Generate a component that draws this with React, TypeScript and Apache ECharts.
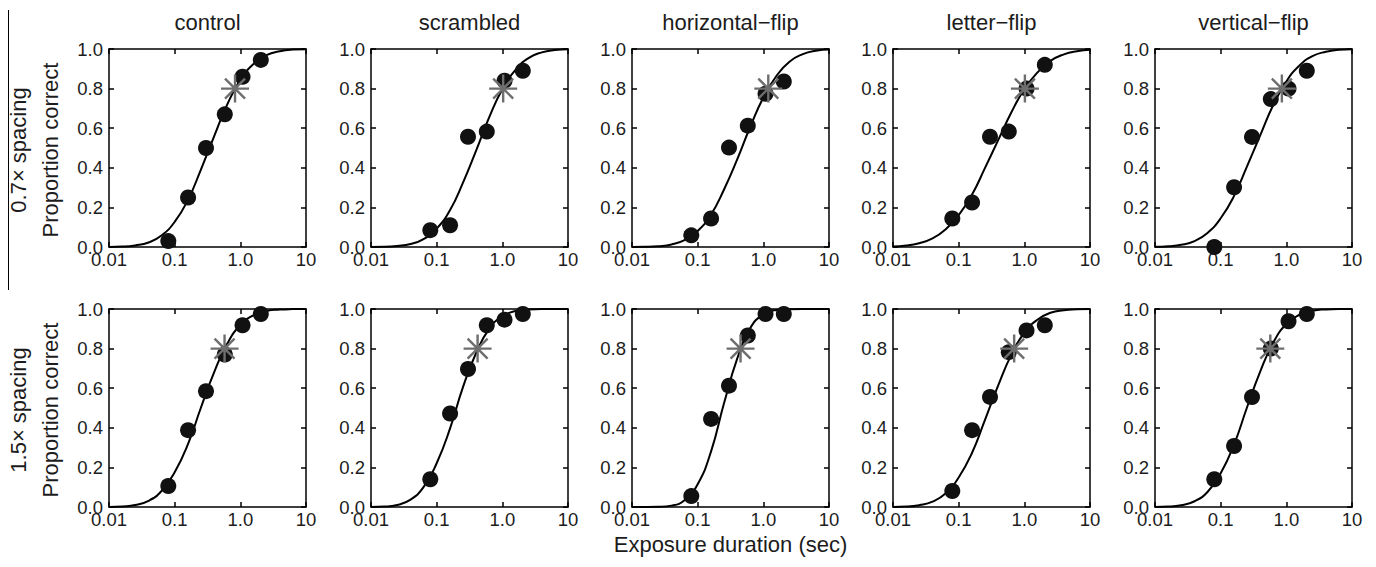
import React, { useEffect, useRef } from "react";
import * as echarts from "echarts";

// ---------- data ----------
const CONDITIONS = ["control", "scrambled", "horizontal\u2212flip", "letter\u2212flip", "vertical\u2212flip"];
const ROW_LABELS = ["0.7\u00d7 spacing", "1.5\u00d7 spacing"];
const Y_NAME = "Proportion correct";
const X_NAME = "Exposure duration (sec)";
const X_TICK_LABELS = ["0.01", "0.1", "1.0", "10"];

// exposure durations (sec) of the measured points
const DURATIONS = [0.08, 0.16, 0.3, 0.58, 1.08, 2.05];

// proportion correct, 0.7x spacing row
const P07_CONTROL = [0.03, 0.25, 0.5, 0.67, 0.86, 0.945];
const P07_SCRAMBLED = [0.085, 0.11, 0.557, 0.583, 0.84, 0.89];
const P07_HFLIP = [0.059, 0.144, 0.502, 0.613, 0.774, 0.836];
const P07_LETTER = [0.144, 0.225, 0.557, 0.583, 0.8, 0.92];
const P07_VFLIP = [0.0, 0.302, 0.556, 0.747, 0.8, 0.89];
// proportion correct, 1.5x spacing row
const P15_CONTROL = [0.106, 0.388, 0.585, 0.77, 0.918, 0.975];
const P15_SCRAMBLED = [0.14, 0.472, 0.697, 0.918, 0.946, 0.975];
const P15_HFLIP = [0.055, 0.445, 0.613, 0.866, 0.975, 0.975];
const P15_LETTER = [0.081, 0.388, 0.556, 0.782, 0.892, 0.918];
const P15_VFLIP = [0.14, 0.308, 0.555, 0.8, 0.938, 0.975];

// 80% thresholds (asterisks), exposure duration in sec
const THRESH_07 = [0.83, 1.03, 1.19, 1.02, 0.855];
const THRESH_15 = [0.575, 0.42, 0.45, 0.7, 0.57];
const THRESH_LEVEL = 0.8;

// fitted psychometric curves, read at these durations
const CURVE_X = [0.01, 0.016, 0.025, 0.04, 0.063, 0.1, 0.16, 0.25, 0.4, 0.63, 1, 1.6, 2.5, 4, 6.3, 10];
const C07_CONTROL = [0.0005, 0.002, 0.008, 0.023, 0.058, 0.127, 0.239, 0.39, 0.56, 0.719, 0.844, 0.925, 0.969, 0.989, 0.997, 0.999];
const C07_SCRAMBLED = [0.0003, 0.001, 0.005, 0.015, 0.04, 0.093, 0.187, 0.323, 0.488, 0.655, 0.797, 0.896, 0.954, 0.983, 0.995, 0.999];
const C07_HFLIP = [0.0003, 0.001, 0.004, 0.013, 0.035, 0.081, 0.164, 0.288, 0.442, 0.606, 0.755, 0.866, 0.936, 0.974, 0.991, 0.997];
const C07_LETTER = [0.0025, 0.007, 0.019, 0.043, 0.088, 0.161, 0.265, 0.397, 0.54, 0.678, 0.797, 0.883, 0.94, 0.973, 0.989, 0.996];
const C07_VFLIP = [0.001, 0.004, 0.011, 0.03, 0.071, 0.145, 0.258, 0.405, 0.564, 0.716, 0.836, 0.918, 0.964, 0.986, 0.996, 0.999];
const C15_CONTROL = [0.0006, 0.003, 0.01, 0.031, 0.081, 0.176, 0.319, 0.5, 0.681, 0.824, 0.919, 0.969, 0.99, 0.997, 0.9994, 1.0];
const C15_SCRAMBLED = [0.0004, 0.002, 0.01, 0.037, 0.1, 0.221, 0.397, 0.603, 0.779, 0.9, 0.963, 0.99, 0.998, 1.0, 1.0, 1.0];
const C15_HFLIP = [0.0, 0.0001, 0.001, 0.007, 0.034, 0.115, 0.281, 0.52, 0.749, 0.903, 0.973, 0.995, 0.999, 1.0, 1.0, 1.0];
const C15_LETTER = [0.0005, 0.002, 0.009, 0.027, 0.068, 0.149, 0.274, 0.438, 0.614, 0.767, 0.881, 0.947, 0.981, 0.994, 0.9985, 1.0];
const C15_VFLIP = [0.0004, 0.002, 0.009, 0.029, 0.076, 0.171, 0.316, 0.5, 0.684, 0.829, 0.924, 0.971, 0.991, 0.998, 1.0, 1.0];

const POINTS = [
  [P07_CONTROL, P07_SCRAMBLED, P07_HFLIP, P07_LETTER, P07_VFLIP],
  [P15_CONTROL, P15_SCRAMBLED, P15_HFLIP, P15_LETTER, P15_VFLIP],
];
const CURVES = [
  [C07_CONTROL, C07_SCRAMBLED, C07_HFLIP, C07_LETTER, C07_VFLIP],
  [C15_CONTROL, C15_SCRAMBLED, C15_HFLIP, C15_LETTER, C15_VFLIP],
];
const THRESHOLDS = [THRESH_07, THRESH_15];

// ---------- layout ----------
const W = 1376;
const H = 567;
const LEFTS = [109, 371, 632, 893, 1155];
const TOPS = [49, 309];
const PW = 197;
const PH = 198;
const FONT = "'Liberation Sans', Arial, Helvetica, sans-serif";
const TEXT_COLOR = "#1c1c1c";
const TICK_FS = 18.5;
const LABEL_FS = 22;

const ASTERISK = "path://M14 0L14 28M0 14L28 14M4 4L24 24M4 24L24 4";

export default function App() {
  const ref = useRef<HTMLDivElement>(null);

  useEffect(() => {
    if (!ref.current) return;
    const chart = echarts.init(ref.current, undefined, { renderer: "svg" });

    const grid: any[] = [];
    const xAxis: any[] = [];
    const yAxis: any[] = [];
    const series: any[] = [];
    const graphic: any[] = [];

    const lineStyle = { color: "#000", width: 1.5 };

    for (let r = 0; r < 2; r++) {
      for (let c = 0; c < 5; c++) {
        const g = r * 5 + c;
        grid.push({ left: LEFTS[c], top: TOPS[r], width: PW, height: PH, show: false });
        const xBase = {
          gridIndex: g,
          type: "log",
          logBase: 10,
          min: 0.01,
          max: 10,
          axisLine: { show: true, onZero: false, lineStyle },
          axisTick: { show: true, inside: true, length: 5, lineStyle: { color: "#000", width: 1.5 } },
          splitLine: { show: false },
          minorTick: { show: false },
        };
        xAxis.push({
          ...xBase,
          position: "bottom",
          axisLabel: {
            show: true,
            margin: 6,
            fontSize: TICK_FS,
            lineHeight: 13,
            fontFamily: FONT,
            color: TEXT_COLOR,
            showMinLabel: true,
            showMaxLabel: true,
            hideOverlap: false,
            formatter: (v: number) => X_TICK_LABELS[Math.round(Math.log10(v)) + 2] ?? "",
          },
        });
        xAxis.push({ ...xBase, position: "top", axisLabel: { show: false } });

        const yBase = {
          gridIndex: g,
          type: "value",
          min: 0,
          max: 1,
          interval: 0.2,
          axisLine: { show: true, onZero: false, lineStyle },
          axisTick: { show: true, inside: true, length: 5, lineStyle: { color: "#000", width: 1.5 } },
          splitLine: { show: false },
        };
        yAxis.push({
          ...yBase,
          position: "left",
          axisLabel: {
            show: true,
            margin: 6,
            fontSize: TICK_FS,
            lineHeight: 9,
            fontFamily: FONT,
            color: TEXT_COLOR,
            formatter: (v: number) => v.toFixed(1),
          },
        });
        yAxis.push({ ...yBase, position: "right", axisLabel: { show: false } });

        const ax = g * 2;
        series.push({
          type: "line",
          xAxisIndex: ax,
          yAxisIndex: ax,
          data: CURVE_X.map((x, i) => [x, CURVES[r][c][i]]),
          showSymbol: false,
          smooth: 0.5,
          lineStyle: { color: "#000", width: 2 },
          silent: true,
          z: 2,
        });
        series.push({
          type: "scatter",
          xAxisIndex: ax,
          yAxisIndex: ax,
          data: DURATIONS.map((x, i) => [x, POINTS[r][c][i]]),
          symbol: "circle",
          symbolSize: 16,
          itemStyle: { color: "#111", opacity: 1 },
          clip: false,
          silent: true,
          z: 3,
        });
        series.push({
          type: "scatter",
          xAxisIndex: ax,
          yAxisIndex: ax,
          data: [[THRESHOLDS[r][c], THRESH_LEVEL]],
          symbol: ASTERISK,
          symbolSize: 28,
          itemStyle: { color: "transparent", borderColor: "#6e6e6e", borderWidth: 2.4, opacity: 1 },
          clip: false,
          silent: true,
          z: 4,
        });
      }
    }

    // column titles
    for (let c = 0; c < 5; c++) {
      graphic.push({
        type: "text",
        x: LEFTS[c] + PW / 2,
        y: 22,
        style: {
          text: CONDITIONS[c],
          fontSize: LABEL_FS,
          fontFamily: FONT,
          fill: TEXT_COLOR,
          align: "center",
          verticalAlign: "middle",
        },
      });
    }
    // row labels
    for (let r = 0; r < 2; r++) {
      const cy = TOPS[r] + PH / 2 + 2;
      graphic.push({
        type: "text",
        x: 18,
        y: cy,
        rotation: Math.PI / 2,
        style: {
          text: ROW_LABELS[r],
          fontSize: LABEL_FS,
          fontFamily: FONT,
          fill: TEXT_COLOR,
          align: "center",
          verticalAlign: "middle",
        },
      });
      graphic.push({
        type: "text",
        x: 50,
        y: cy,
        rotation: Math.PI / 2,
        style: {
          text: Y_NAME,
          fontSize: LABEL_FS,
          fontFamily: FONT,
          fill: TEXT_COLOR,
          align: "center",
          verticalAlign: "middle",
        },
      });
    }
    graphic.push({
      type: "text",
      x: LEFTS[2] + PW / 2,
      y: 544,
      style: {
        text: X_NAME,
        fontSize: LABEL_FS,
        fontFamily: FONT,
        fill: TEXT_COLOR,
        align: "center",
        verticalAlign: "middle",
      },
    });
    graphic.push({
      type: "line",
      shape: { x1: 8.5, y1: 10, x2: 8.5, y2: 290 },
      style: { stroke: "#000", lineWidth: 1 },
    });

    chart.setOption({
      animation: false,
      backgroundColor: "#fff",
      grid,
      xAxis,
      yAxis,
      series,
      graphic,
    });

    return () => chart.dispose();
  }, []);

  return (
    <div
      ref={ref}
      style={{ position: "fixed", left: 0, top: 0, width: W, height: H, background: "#fff" }}
    />
  );
}
